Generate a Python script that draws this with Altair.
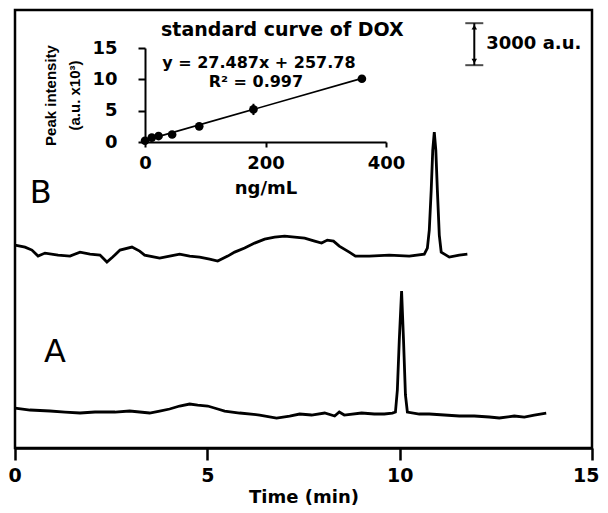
import altair as alt
import pandas as pd

# ---------------- main chromatograms (time in min, intensity in a.u.) ----------------
tA = [0.00, 0.39, 0.91, 1.30, 1.69, 2.08, 2.60, 2.98, 3.50, 3.76, 4.02, 4.28, 4.54, 4.75,
      5.01, 5.27, 5.45, 5.84, 6.36, 6.80, 7.14, 7.40, 7.71, 8.05, 8.31, 8.43, 8.56, 9.01,
      9.34, 9.60, 9.81, 9.89, 9.94, 9.99, 10.05, 10.10, 10.15, 10.20, 10.51, 10.77, 11.16,
      11.55, 11.94, 12.33, 12.59, 12.98, 13.24, 13.50, 13.81]
aA = [2857, 2714, 2643, 2571, 2500, 2571, 2571, 2643, 2500, 2643, 2786, 3000, 3143, 3071,
      3000, 2786, 2643, 2500, 2357, 2143, 2286, 2429, 2357, 2500, 2286, 2571, 2357, 2500,
      2429, 2429, 2500, 2571, 4143, 7714, 11214, 7714, 3786, 2571, 2429, 2429, 2357,
      2286, 2286, 2214, 2143, 2286, 2214, 2357, 2500]

tB = [0.00, 0.26, 0.44, 0.60, 0.78, 1.12, 1.43, 1.69, 1.95, 2.21, 2.39, 2.54, 2.73, 3.04,
      3.24, 3.37, 3.76, 4.02, 4.28, 4.54, 4.80, 5.06, 5.27, 5.53, 5.71, 5.97, 6.23, 6.49,
      6.75, 7.01, 7.27, 7.53, 7.79, 7.97, 8.12, 8.28, 8.43, 8.69, 8.85, 9.21, 9.73, 10.25,
      10.64, 10.72, 10.77, 10.82, 10.86, 10.90, 10.94, 10.98, 11.03, 11.08, 11.29, 11.55, 11.76]
aB = [14500, 14357, 14143, 13714, 13929, 13786, 13714, 14000, 13857, 13786, 13286, 13643,
      14143, 14357, 14071, 13786, 13571, 13714, 13857, 13714, 13643, 13500, 13357, 13714,
      14000, 14286, 14643, 14929, 15071, 15143, 15071, 15000, 14786, 14643, 14857, 14786,
      14429, 14000, 13714, 13714, 13786, 13714, 13857, 14286, 15571, 18429, 21286, 22571,
      21286, 18429, 15214, 14000, 13643, 13786, 13857]

trace_labels = ["A", "B"]
trace_label_t = [1.04, 0.67]
trace_label_au = [6857, 18214]

# scale bar (3000 a.u.)
bar_t = [11.94]
bar_lo = [27357]
bar_hi = [30357]
bar_text = ["3000 a.u."]

# ---------------- inset: standard curve ----------------
conc = [0, 11.25, 22.5, 45, 90, 180, 360]
inten = [0.2, 0.7, 0.95, 1.2, 2.5, 5.2, 10.1]
err = [0.05, 0.1, 0.1, 0.1, 0.2, 0.9, 0.25]
fit_x = [0, 360]
fit_y = [0.26, 10.15]
inset_title = ["standard curve of DOX"]
inset_title_x = [228]
inset_title_y = [17.9]
inset_texts = ["y = 27.487x + 257.78", "R\u00b2 = 0.997"]
inset_text_x = [189, 184]
inset_text_y = [12.6, 9.5]

FONT = "DejaVu Sans"

xs = alt.Scale(domain=[0, 15], nice=False)
ys = alt.Scale(domain=[0, 31300], nice=False)
x_axis = alt.Axis(values=[0, 5, 10, 15], title="Time (min)", grid=False,
                  labelFlush=True, labelFlushOffset=7,
                  domainColor="black", domainWidth=2.5, tickColor="black", tickWidth=2.5,
                  tickSize=12, labelFont=FONT, labelFontWeight="bold", labelFontSize=19,
                  labelColor="black", labelPadding=6, titleFont=FONT, titleFontWeight="bold",
                  titleFontSize=18, titleColor="black", titlePadding=3)

def X(field):
    return alt.X(field, type="quantitative", scale=xs, axis=x_axis)

def Y(field):
    return alt.Y(field, type="quantitative", scale=ys, axis=None)

dfA = pd.DataFrame({"t": tA, "au": aA})
dfB = pd.DataFrame({"t": tB, "au": aB})
lineA = alt.Chart(dfA).mark_line(color="black", strokeWidth=2.8).encode(x=X("t"), y=Y("au"))
lineB = alt.Chart(dfB).mark_line(color="black", strokeWidth=2.8).encode(x=X("t"), y=Y("au"))

df_lab = pd.DataFrame({"t": trace_label_t, "au": trace_label_au, "lab": trace_labels})
labels = alt.Chart(df_lab).mark_text(font=FONT, fontSize=32, color="black",
                                     align="center", baseline="middle").encode(
    x=X("t"), y=Y("au"), text="lab:N")

df_bar = pd.DataFrame({"t": bar_t, "lo": bar_lo, "hi": bar_hi, "txt": bar_text})
bar = alt.Chart(df_bar).mark_rule(color="black", strokeWidth=2).encode(
    x=X("t"), y=Y("lo"), y2="hi")
cap_lo = alt.Chart(df_bar).mark_tick(color="black", thickness=2, size=18,
                                     orient="horizontal").encode(x=X("t"), y=Y("lo"))
cap_hi = alt.Chart(df_bar).mark_tick(color="black", thickness=2, size=18,
                                     orient="horizontal").encode(x=X("t"), y=Y("hi"))
arr_hi = alt.Chart(df_bar).mark_point(shape="triangle-up", filled=True, color="black",
                                      size=30, opacity=1, yOffset=4).encode(x=X("t"), y=Y("hi"))
arr_lo = alt.Chart(df_bar).mark_point(shape="triangle-down", filled=True, color="black",
                                      size=30, opacity=1, yOffset=-4).encode(x=X("t"), y=Y("lo"))
bar_txt = alt.Chart(df_bar).mark_text(font=FONT, fontWeight="bold", fontSize=18,
                                      color="black", align="left", baseline="middle",
                                      dx=12).encode(
    x=X("t"), y=alt.Y("mid:Q", scale=ys, axis=None), text="txt:N"
).transform_calculate(mid="(datum.lo + datum.hi) / 2")

main = alt.layer(lineA, lineB, labels, bar, cap_lo, cap_hi, arr_hi, arr_lo, bar_txt)

# inset
cx = alt.Scale(domain=[0, 400], range=[130, 371], nice=False)
cy = alt.Scale(domain=[0, 15], range=[132, 38], nice=False)
cx_axis = alt.Axis(values=[0, 200, 400], orient="bottom", offset=-306, title="ng/mL",
                   grid=False, labelFlush=False, domainColor="black", domainWidth=2,
                   tickColor="black", tickWidth=2, tickSize=5, labelFont=FONT,
                   labelFontWeight="bold", labelFontSize=18, labelColor="black",
                   labelPadding=7, titleFont=FONT, titleFontWeight="bold", titleFontSize=18,
                   titleColor="black", titlePadding=7)
cy_axis = alt.Axis(values=[0, 5, 10, 15], orient="left", offset=-130,
                   title=["Peak intensity", "(a.u. x10\u00b3)"], grid=False,
                   domainColor="black", domainWidth=2, tickColor="black", tickWidth=2,
                   tickSize=7, labelFont=FONT, labelFontWeight="bold", labelFontSize=18,
                   labelColor="black", labelPadding=21, titleFont="Liberation Sans",
                   titleFontWeight="bold", titleFontSize=15, titleColor="black",
                   titleLineHeight=24, titlePadding=9)

def CX(field):
    return alt.X(field, type="quantitative", scale=cx, axis=cx_axis)

def CY(field):
    return alt.Y(field, type="quantitative", scale=cy, axis=cy_axis)

df_pts = pd.DataFrame({"c": conc, "v": inten, "e": err})
df_fit = pd.DataFrame({"c": fit_x, "v": fit_y})
fit = alt.Chart(df_fit).mark_line(color="black", strokeWidth=1.6).encode(x=CX("c"), y=CY("v"))
ebar = alt.Chart(df_pts).mark_rule(color="black", strokeWidth=2).encode(
    x=CX("c"), y=alt.Y("lo:Q", scale=cy, axis=cy_axis), y2="hi:Q"
).transform_calculate(lo="datum.v - datum.e", hi="datum.v + datum.e")
pts = alt.Chart(df_pts).mark_point(filled=True, color="black", size=75, opacity=1).encode(
    x=CX("c"), y=CY("v"))
df_ttl = pd.DataFrame({"c": inset_title_x, "v": inset_title_y, "s": inset_title})
ttl = alt.Chart(df_ttl).mark_text(font=FONT, fontWeight="bold", fontSize=19, color="black",
                                  align="center", baseline="middle").encode(
    x=CX("c"), y=CY("v"), text="s:N")
df_it = pd.DataFrame({"c": inset_text_x, "v": inset_text_y, "s": inset_texts})
itxt = alt.Chart(df_it).mark_text(font=FONT, fontWeight="bold", fontSize=16, color="black",
                                  align="center", baseline="middle").encode(
    x=CX("c"), y=CY("v"), text="s:N")

inset = alt.layer(fit, ebar, pts, ttl, itxt)

chart = alt.layer(main, inset).resolve_scale(x="independent", y="independent").properties(
    width=577, height=438,
    autosize=alt.AutoSizeParams(type="none"),
    padding={"left": 7, "top": 2, "right": 8, "bottom": 57},
).configure_view(stroke="black", strokeWidth=2.5)

chart.save("out.html", embed_options={"renderer": "svg", "actions": False})
